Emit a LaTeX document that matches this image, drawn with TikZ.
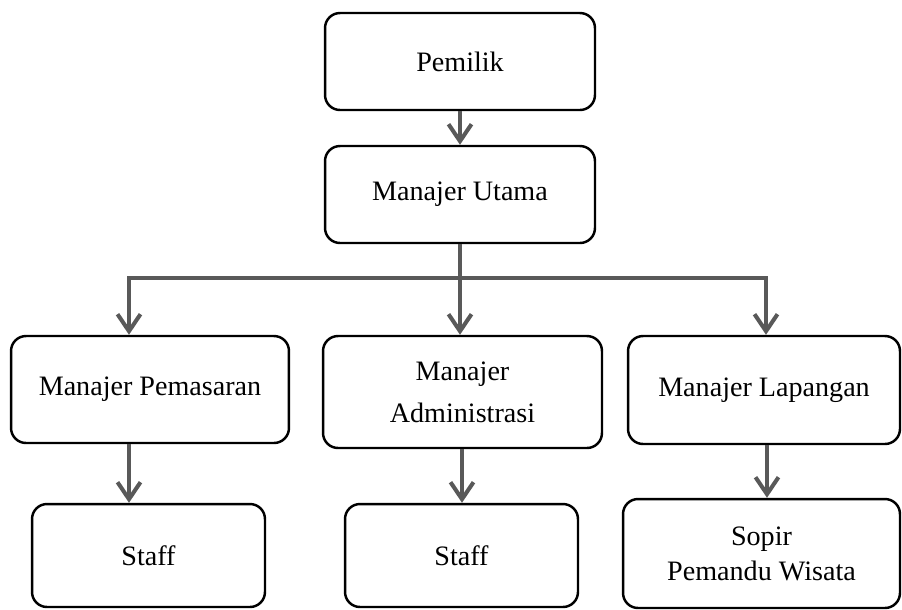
\documentclass[tikz,border=0pt]{standalone}
\usepackage{fontspec}
\setmainfont{Liberation Serif}
\usepackage{tikz}
\usetikzlibrary{arrows.meta, positioning, calc}
\definecolor{cLine}{RGB}{89,89,89}
\tikzset{
	unit/.style     ={rectangle, rounded corners=0.3cm, draw=black, line width=1.4pt, align=center, inner sep=0pt, font=\fontsize{16}{20}\selectfont},
	topunit/.style  ={unit, minimum width=5.4cm, minimum height=1.94cm},
	midunit/.style  ={unit, minimum width=5.5cm, minimum height=2.16cm},
	lowunit/.style  ={unit, minimum width=4.66cm, minimum height=2.06cm},
	% connector styles
	link/.style     ={cLine, line width=2.3pt},
	order/.style    ={link, -{Straight Barb[length=0.34cm, width=0.46cm, line width=2.3pt]}},
}
\begin{document}
\begin{tikzpicture}[x=0.02cm, y=-0.02cm]
	\useasboundingbox (0,0) rectangle (902,609);
	% top of the chart
	\node[topunit] (pemilik) at (460,61.5) {Pemilik};
	\node[topunit] (utama) at (460,194.5) {Manajer Utama};
	% managers
	\node[midunit, minimum width=5.56cm, minimum height=2.14cm] (pemasaran) at (150,389.5) {Manajer Pemasaran};
	\node[midunit, minimum width=5.58cm, minimum height=2.24cm] (admin) at (462.5,392) {Manajer\\[4pt]Administrasi};
	\node[midunit, minimum width=5.44cm] (lapangan) at (764,390) {Manajer Lapangan};
	% staff
	\node[lowunit] (staff1) at (148.5,555.5) {Staff};
	\node[lowunit] (staff2) at (461.5,555.5) {Staff};
	\node[lowunit, minimum width=5.54cm, minimum height=2.18cm] (sopir) at (761.5,553.5) {Sopir\\Pemandu Wisata};
	% connectors
	\coordinate (bus) at (460,278);
	\draw[order] (pemilik) -- (utama);
	\draw[link] (utama) -- (bus);
	\draw[order] (bus) -| (129,0 |- pemasaran.north);
	\draw[order] (bus) -- (460,0 |- admin.north);
	\draw[order] (bus) -| (766,0 |- lapangan.north);
	\draw[order] (129,0 |- pemasaran.south) -- (129,0 |- staff1.north);
	\draw[order] (462,0 |- admin.south) -- (462,0 |- staff2.north);
	\draw[order] (767,0 |- lapangan.south) -- (767,0 |- sopir.north);
\end{tikzpicture}
\end{document}
